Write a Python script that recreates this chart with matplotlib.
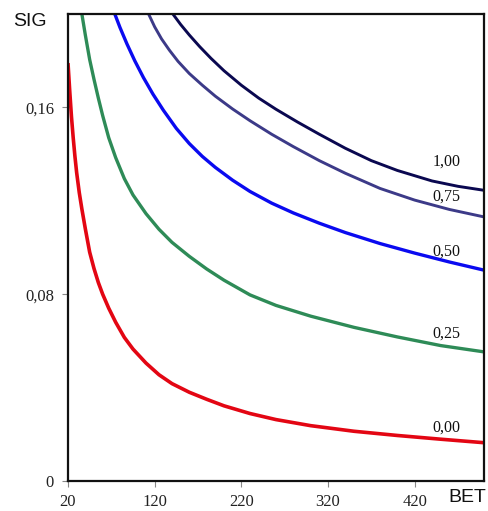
import matplotlib
matplotlib.use("Agg")
import matplotlib.pyplot as plt

# ---- data ----
bet_000 = [20, 22, 24, 26, 28, 30, 33, 36, 40, 45, 50, 55, 60, 67, 75, 85, 95, 110, 125,
           140, 160, 180, 200, 230, 260, 300, 350, 400, 450, 500]
sig_000 = [0.179, 0.167, 0.156, 0.147, 0.139, 0.132, 0.1235, 0.1165, 0.108, 0.098, 0.091,
           0.085, 0.080, 0.074, 0.068, 0.0615, 0.0565, 0.0505, 0.0455, 0.0417, 0.0380,
           0.0350, 0.0322, 0.0289, 0.0263, 0.0237, 0.0213, 0.0195, 0.0179, 0.0164]

bet_025 = [34, 36, 40, 45, 50, 55, 60, 67, 75, 85, 95, 110, 125, 140, 160, 180, 200, 230,
           260, 300, 350, 400, 450, 500]
sig_025 = [0.205, 0.200, 0.191, 0.1805, 0.172, 0.164, 0.1565, 0.147, 0.1385, 0.1295,
           0.1225, 0.1145, 0.1078, 0.1022, 0.0962, 0.0908, 0.0860, 0.0797, 0.0752, 0.0706,
           0.0658, 0.0617, 0.0580, 0.0553]

bet_050 = [72, 74, 80, 88, 97, 107, 118, 130, 145, 160, 175, 190, 210, 230, 255, 280, 310,
           340, 380, 420, 460, 500]
sig_050 = [0.2025, 0.200, 0.1942, 0.1872, 0.1800, 0.1728, 0.1657, 0.1588, 0.1510, 0.1445,
           0.1390, 0.1343, 0.1288, 0.1240, 0.1190, 0.1148, 0.1104, 0.1064, 0.1017, 0.0976,
           0.0938, 0.0903]

bet_075 = [110, 113, 120, 128, 137, 147, 160, 175, 190, 210, 230, 255, 280, 310, 340, 380,
           420, 460, 500]
sig_075 = [0.2025, 0.2000, 0.1945, 0.1893, 0.1845, 0.1797, 0.1745, 0.1695, 0.1648, 0.1593,
           0.1543, 0.1485, 0.1432, 0.1372, 0.1318, 0.1253, 0.1203, 0.1163, 0.1131]

bet_100 = [138, 141, 150, 160, 172, 185, 200, 220, 240, 260, 285, 310, 340, 370, 400, 440,
           470, 500]
sig_100 = [0.2015, 0.2000, 0.1955, 0.1910, 0.1860, 0.1810, 0.1757, 0.1695, 0.1640, 0.1592,
           0.1537, 0.1485, 0.1425, 0.1372, 0.1330, 0.1285, 0.1262, 0.1245]

curve_labels = ["0,00", "0,25", "0,50", "0,75", "1,00"]
label_bet = [457, 457, 457, 457, 457]
label_sig = [0.0227, 0.0633, 0.0981, 0.1216, 0.1366]

x_ticks = [20, 120, 220, 320, 420]
y_ticks = [0, 0.08, 0.16]
y_tick_labels = ["0", "0,08", "0,16"]

colors = ["#e30613", "#2e8b57", "#0a0af0", "#3c3a88", "#0a0850"]
widths = [2.6, 2.4, 2.4, 2.1, 2.1]

fig = plt.figure(figsize=(4.88, 5.11), dpi=100)
ax = fig.add_axes([68 / 488, 1 - 481 / 511, (484 - 68) / 488, (481 - 14) / 511])

series = [(bet_000, sig_000), (bet_025, sig_025), (bet_050, sig_050),
          (bet_075, sig_075), (bet_100, sig_100)]
for (bx, sy), c, w in zip(series, colors, widths):
    ax.plot(bx, sy, color=c, lw=w, solid_capstyle="butt", solid_joinstyle="round")

for t, bx, sy in zip(curve_labels, label_bet, label_sig):
    ax.text(bx, sy, t, ha="center", va="center", fontsize=11.5,
            family="Liberation Serif", color="#111111")

ax.set_xlim(20, 500)
ax.set_ylim(0, 0.2)
ax.set_xticks(x_ticks)
ax.set_xticklabels([str(v) for v in x_ticks])
ax.set_yticks(y_ticks)
ax.set_yticklabels(y_tick_labels)
for lab in ax.get_xticklabels() + ax.get_yticklabels():
    lab.set_family("Liberation Serif")
    lab.set_fontsize(12)
    lab.set_color("#222222")
ax.tick_params(axis="both", direction="out", length=4, width=0.8, color="#888888")
ax.tick_params(axis="x", pad=5)
ax.tick_params(axis="y", pad=6)

for s in ax.spines.values():
    s.set_linewidth(1.6)
    s.set_color("#111111")

fig.text(30 / 488, 1 - 22 / 511, "SIG", ha="center", va="center", fontsize=14,
         family="Liberation Sans", color="#111111")
fig.text(467 / 488, 1 - 497 / 511, "BET", ha="center", va="center", fontsize=14,
         family="Liberation Sans", color="#111111")

fig.savefig("out.png", dpi=100)
